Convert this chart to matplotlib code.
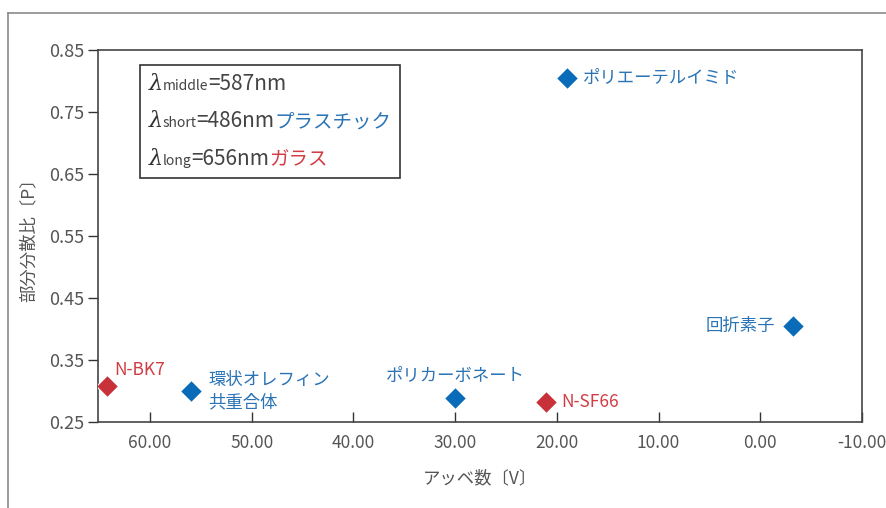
import matplotlib
matplotlib.use("Agg")
import matplotlib.pyplot as plt
from matplotlib.lines import Line2D
from matplotlib.offsetbox import TextArea, HPacker, VPacker, AnchoredOffsetbox

plt.rcParams['font.family'] = ['Noto Sans CJK JP', 'DejaVu Sans']

# data
names = ["ポリエーテルイミド", "回折素子", "N-BK7", "環状オレフィン\n共重合体", "ポリカーボネート", "N-SF66"]
abbe = [19.0, -3.2, 64.2, 56.0, 30.0, 21.1]
ratio = [0.805, 0.405, 0.308, 0.300, 0.289, 0.282]
kind = ["plastic", "plastic", "glass", "plastic", "plastic", "glass"]
xticks = [60, 50, 40, 30, 20, 10, 0, -10]
yticks = [0.25, 0.35, 0.45, 0.55, 0.65, 0.75, 0.85]

blue = "#0a6bb8"
red = "#c9313a"
txt_blue = "#2a74b5"
txt_red = "#d23c44"
gray = "#555555"

fig = plt.figure(figsize=(8.86, 5.08), dpi=100)
ax = fig.add_axes([98/886, 1-422/508, (862-98)/886, (422-50)/508])

# outer frame lines
fig.add_artist(Line2D([8/886, 1.0], [1-13/508, 1-13/508], transform=fig.transFigure, color="#8a8a8a", lw=1.2))
fig.add_artist(Line2D([8/886, 8/886], [0, 1-13/508], transform=fig.transFigure, color="#8a8a8a", lw=1.2))

for x, y, k in zip(abbe, ratio, kind):
    ax.plot(x, y, marker="D", ms=11, color=blue if k == "plastic" else red, mec="white", mew=0.8, ls="none", zorder=3)

# label offsets in pixels
offsets = [(16, 0, "left", "center"), (-18, 0, "right", "center"), (7, 16, "left", "center"),
           (18, 0, "left", "center"), (0, 22, "center", "center"), (16, 0, "left", "center")]
for n, x, y, k, (dx, dy, ha, va) in zip(names, abbe, ratio, kind, offsets):
    ax.annotate(n, (x, y), xytext=(dx, dy), textcoords="offset pixels", ha=ha, va=va,
                fontsize=12.5, color=txt_blue if k == "plastic" else txt_red, linespacing=1.3)

ax.set_xlim(65.1, -10)
ax.set_ylim(0.25, 0.85)
ax.set_xticks(xticks)
ax.set_xticklabels(["%.2f" % v for v in xticks])
ax.set_yticks(yticks)
ax.set_yticklabels(["%.2f" % v for v in yticks])
ax.tick_params(axis="x", direction="in", length=7, width=1, color="#333333", labelsize=12.5, labelcolor=gray, pad=9)
ax.tick_params(axis="y", direction="out", length=7, width=1, color="#333333", labelsize=13, labelcolor=gray, pad=3)
ax.get_xticklabels()[-1].set_horizontalalignment("center")
for s in ax.spines.values():
    s.set_color("#444444")
    s.set_linewidth(1.2)

ax.set_xlabel("アッベ数〔V〕", fontsize=12.5, color=gray, labelpad=12)
ax.set_ylabel("部分分散比〔P〕", fontsize=12.5, color=gray, labelpad=8)

# legend-like box
def line(sub, val, extra, ecol):
    parts = [TextArea("λ", textprops=dict(fontsize=16, color="#333333", style="italic", family="DejaVu Serif")),
             TextArea(sub, textprops=dict(fontsize=10, color="#444444")),
             TextArea(val, textprops=dict(fontsize=15, color="#444444"))]
    if extra:
        parts.append(TextArea(extra, textprops=dict(fontsize=14, color=ecol)))
    return HPacker(children=parts, align="baseline", pad=0, sep=0)

box = VPacker(children=[line("middle", "=587nm", "", gray),
                        line("short", "=486nm", "プラスチック", txt_blue),
                        line("long", "=656nm", "ガラス", txt_red)],
              align="left", pad=0, sep=11)
ab = AnchoredOffsetbox(loc="upper left", child=box, pad=0.6, borderpad=0,
                       bbox_to_anchor=(0.055, 0.96), bbox_transform=ax.transAxes, frameon=True)
ab.patch.set_edgecolor("#333333")
ab.patch.set_linewidth(1.2)
ab.patch.set_boxstyle("square", pad=0)
ax.add_artist(ab)

fig.savefig("out.png", dpi=100)
